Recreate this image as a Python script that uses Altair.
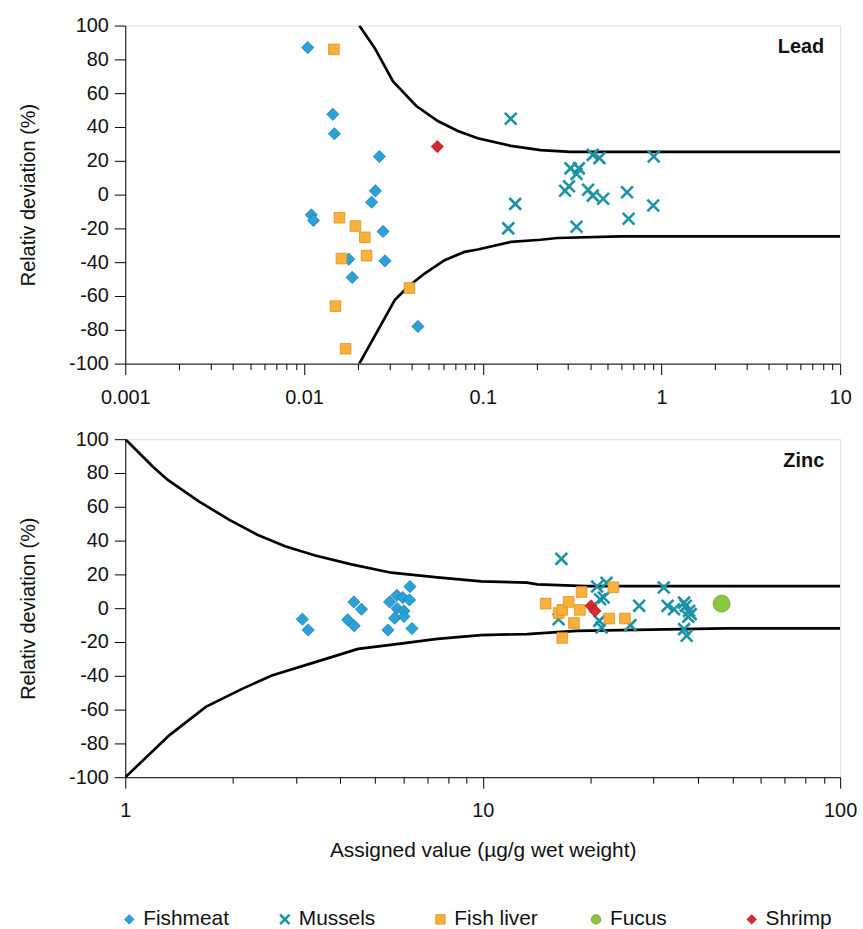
import altair as alt
import pandas as pd

FONT = "Liberation Sans"
SERIES = ["Fishmeat", "Mussels", "Fish liver", "Fucus", "Shrimp"]

# ---------------- Lead panel data ----------------
lead_fishmeat_x = [0.0105, 0.0145, 0.0148, 0.0264, 0.0251, 0.0239, 0.0110, 0.0113, 0.0277, 0.0178, 0.0284, 0.0186, 0.0434]
lead_fishmeat_y = [87, 47.5, 36, 22.5, 2.2, -4.5, -12, -15.3, -21.8, -38.2, -39.2, -49, -78]
lead_mussels_x = [0.1435, 0.152, 0.139, 0.335, 0.31, 0.345, 0.335, 0.413, 0.45, 0.304, 0.289, 0.389, 0.413, 0.472, 0.642, 0.655, 0.906, 0.9]
lead_mussels_y = [44.9, -5.5, -20, -19, 15.5, 15.5, 12.2, 23.5, 21.6, 4.9, 2.3, 2.9, -0.6, -2.5, 1.4, -14.3, 22.5, -6.5]
lead_liver_x = [0.0147, 0.0158, 0.0194, 0.0219, 0.0162, 0.0224, 0.0389, 0.0150, 0.0171]
lead_liver_y = [85.9, -13.7, -18.6, -25.3, -37.8, -36.1, -55.3, -66, -91.2]
lead_shrimp_x = [0.0557]
lead_shrimp_y = [28.4]

lead_upper_x = [0.0204, 0.0249, 0.0315, 0.0425, 0.0561, 0.0726, 0.0938, 0.1438, 0.211, 0.310, 10]
lead_upper_y = [100, 86.6, 67, 52.4, 43.5, 37.6, 33.3, 28.8, 26.3, 25.3, 25.3]
lead_lower_x = [0.0204, 0.026, 0.0322, 0.0382, 0.0473, 0.0612, 0.0791, 0.0938, 0.144, 0.211, 0.262, 0.589, 10]
lead_lower_y = [-100, -80, -62.4, -54.5, -46.7, -38.8, -33.9, -32.5, -28, -26.7, -25.7, -24.7, -24.7]

# ---------------- Zinc panel data ----------------
zinc_fishmeat_x = [3.13, 3.25, 4.36, 4.58, 4.19, 4.37, 5.43, 5.49, 5.75, 5.98, 6.26, 6.24, 5.76, 6.02, 5.67, 6.02, 6.34]
zinc_fishmeat_y = [-6.5, -12.9, 3.7, -0.6, -6.9, -10.4, -12.9, 3.7, 7.6, 6.3, 12.8, 4.9, -0.2, -1.6, -5.9, -4.9, -12]
zinc_mussels_x = [16.6, 20.9, 22.2, 21.8, 21.3, 16.3, 21.2, 21.5, 25.9, 27.4, 32.1, 32.9, 34.3, 36.6, 37.0, 37.8, 38.2, 37.6, 36.6, 37.2]
zinc_mussels_y = [29.2, 12.8, 15.1, 6.3, 5.3, -6.5, -7.5, -11.4, -10, 1.4, 12.2, 1.4, -0.6, 3.3, 1.4, -1.6, -3.5, -5.1, -12.4, -16.3]
zinc_liver_x = [15.0, 16.3, 16.7, 17.4, 18.9, 18.7, 18.0, 16.7, 23.2, 22.6, 25.0]
zinc_liver_y = [2.7, -2.9, -1.0, 3.7, 9.6, -1.0, -8.8, -17.6, 12.4, -6.1, -6.1]
zinc_fucus_x = [46.6]
zinc_fucus_y = [2.7]
zinc_shrimp_x = [20.1, 20.6]
zinc_shrimp_y = [1.4, -1.6]

zinc_upper_x = [1.0, 1.195, 1.315, 1.61, 1.95, 2.34, 2.80, 3.40, 4.29, 5.55, 7.47, 9.9, 13.3, 14.2, 19.5, 100]
zinc_upper_y = [100, 83.7, 75.9, 63.1, 52.4, 43.5, 36.6, 31.2, 25.9, 21.0, 18.2, 15.9, 15.1, 14.1, 13.1, 13.1]
zinc_lower_x = [1.0, 1.33, 1.68, 2.13, 2.57, 3.4, 4.48, 5.67, 7.47, 9.9, 13.3, 18.3, 47.8, 100]
zinc_lower_y = [-100, -75.1, -58.4, -47.6, -39.8, -31.9, -24.1, -21.4, -18.2, -15.9, -15.3, -13.4, -11.9, -11.9]


def points_df(groups):
    rows = []
    for name, xs, ys in groups:
        for xv, yv in zip(xs, ys):
            rows.append({"x": xv, "y": yv, "series": name, "order": SERIES.index(name)})
    return pd.DataFrame(rows)


def lines_df(upper_x, upper_y, lower_x, lower_y):
    rows = []
    for i, (xv, yv) in enumerate(zip(upper_x, upper_y)):
        rows.append({"x": xv, "y": yv, "side": "upper", "i": i})
    for i, (xv, yv) in enumerate(zip(lower_x, lower_y)):
        rows.append({"x": xv, "y": yv, "side": "lower", "i": i})
    return pd.DataFrame(rows)


lead_pts = points_df([
    ("Fishmeat", lead_fishmeat_x, lead_fishmeat_y),
    ("Mussels", lead_mussels_x, lead_mussels_y),
    ("Fish liver", lead_liver_x, lead_liver_y),
    ("Shrimp", lead_shrimp_x, lead_shrimp_y),
])
zinc_pts = points_df([
    ("Fishmeat", zinc_fishmeat_x, zinc_fishmeat_y),
    ("Mussels", zinc_mussels_x, zinc_mussels_y),
    ("Fish liver", zinc_liver_x, zinc_liver_y),
    ("Fucus", zinc_fucus_x, zinc_fucus_y),
    ("Shrimp", zinc_shrimp_x, zinc_shrimp_y),
])
lead_lines = lines_df(lead_upper_x, lead_upper_y, lead_lower_x, lead_lower_y)
zinc_lines = lines_df(zinc_upper_x, zinc_upper_y, zinc_lower_x, zinc_lower_y)
legend_df = pd.DataFrame({"series": SERIES})

W, H = 719, 340

shape_range = ["diamond", "M-1,-1L1,1M-1,1L1,-1", "square", "circle", "diamond"]
fill_range = ["#2BA1DA", "transparent", "#FBB03B", "#8CC63F", "#D6282E"]
stroke_range = ["#1C7DB2", "#1A93A6", "#D9921F", "#6C9E2E", "#B01F24"]
sw_range = [0.8, 2.6, 0.8, 0.8, 0.8]
size_range = [150, 140, 115, 290, 150]

shape_s = alt.Scale(domain=SERIES, range=shape_range)
fill_s = alt.Scale(domain=SERIES, range=fill_range)
stroke_s = alt.Scale(domain=SERIES, range=stroke_range)
sw_s = alt.Scale(type="ordinal", domain=SERIES, range=sw_range)

major = "abs(log(datum.value)/LN10 - round(log(datum.value)/LN10)) < 1e-6"


def xticks(lo_exp, hi_exp):
    vals = []
    for e in range(lo_exp, hi_exp):
        for m in range(1, 10):
            vals.append(round(m * 10 ** e, 6))
    vals.append(10 ** hi_exp if hi_exp >= 0 else round(10 ** hi_exp, 6))
    return vals


def style_enc():
    return dict(
        shape=alt.Shape("series:N", scale=shape_s, legend=None),
        fill=alt.Fill("series:N", scale=fill_s, legend=None),
        stroke=alt.Stroke("series:N", scale=stroke_s, legend=None),
        strokeWidth=alt.StrokeWidth("series:N", scale=sw_s, legend=None),
    )


def panel(pts, lines, xdom, lo_exp, hi_exp, label, xtitle):
    xaxis = alt.Axis(
        values=xticks(lo_exp, hi_exp),
        labelExpr=f"{major} ? format(datum.value, '~g') : ''",
        tickSize={"condition": {"test": major, "value": 11}, "value": 6},
        labelPadding=13, labelFont=FONT, labelFontSize=20, labelColor="#111",
        title=xtitle, titleFont=FONT, titleFontSize=21, titleFontWeight="normal",
        titleColor="#111", titlePadding=19, grid=False, domainColor="black",
        tickColor="black", labelFlush=False, labelOverlap=False,
    )
    yaxis = alt.Axis(
        values=list(range(-100, 101, 20)), tickSize=11, labelPadding=6,
        labelExpr="toString(datum.value)",
        labelFont=FONT, labelFontSize=20, labelColor="#111",
        title="Relativ deviation (%)", titleFont=FONT, titleFontSize=20,
        titleFontWeight="normal", titleColor="#111", titlePadding=30,
        grid=False, domainColor="black", tickColor="black",
    )
    xs = alt.Scale(type="log", domain=xdom, nice=False)
    ys = alt.Scale(domain=[-100, 100], nice=False)

    ln = alt.Chart(lines).mark_line(color="black", strokeWidth=2.7, clip=True).encode(
        x=alt.X("x:Q", scale=xs, axis=xaxis),
        y=alt.Y("y:Q", scale=ys, axis=yaxis),
        detail="side:N",
        order="i:Q",
    )
    pt = alt.Chart(pts).mark_point(filled=True, opacity=1, clip=True).encode(
        x=alt.X("x:Q", scale=xs, axis=xaxis),
        y=alt.Y("y:Q", scale=ys, axis=yaxis),
        size=alt.Size("series:N", scale=alt.Scale(type="ordinal", domain=SERIES, range=size_range), legend=None),
        order=alt.Order("order:Q"),
        **style_enc(),
    )
    txt = alt.Chart(pd.DataFrame({"t": [label]})).mark_text(
        font=FONT, fontSize=20, fontWeight="bold", align="right", baseline="alphabetic", color="#111"
    ).encode(text="t:N", x=alt.value(W - 16), y=alt.value(28))
    return alt.layer(ln, pt, txt).properties(width=W, height=H)


top = panel(lead_pts, lead_lines, [0.001, 10], -3, 1, "Lead", None)
bottom = panel(zinc_pts, zinc_lines, [1, 100], 0, 2, "Zinc", "Assigned value (µg/g wet weight)")

# legend row (drawn with the same scales)
lx = alt.X("series:N", scale=alt.Scale(type="point", domain=SERIES, range=[4, 630], padding=0), axis=None)
leg_sym = alt.Chart(legend_df).mark_point(filled=True, opacity=1, size=90).encode(
    x=lx, y=alt.value(37), **style_enc()
)
leg_txt = alt.Chart(legend_df).mark_text(
    font=FONT, fontSize=21, align="left", baseline="middle", dx=14, color="#111"
).encode(x=lx, y=alt.value(37), text="series:N")
legend_row = alt.layer(leg_sym, leg_txt).properties(
    width=W, height=48, view=alt.ViewConfig(stroke="transparent")
)

chart = alt.vconcat(top, bottom, legend_row, spacing=20).resolve_scale(
    x="independent", y="independent"
).properties(
    padding={"left": 18, "top": 12, "right": 5, "bottom": 5}
).configure_view(stroke="black", strokeWidth=1).configure(background="white")

chart.save("out.html", embed_options={"renderer": "svg", "actions": False})
